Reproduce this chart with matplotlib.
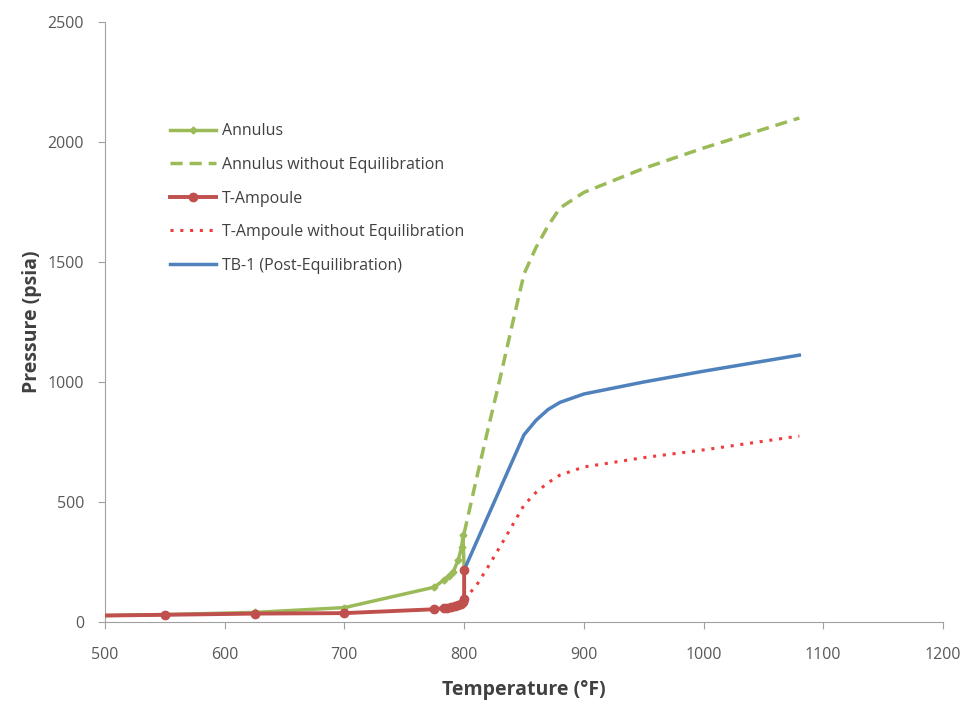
import numpy as np
import matplotlib.pyplot as plt

# Annulus (measured)
ann_t = [500, 550, 625, 700, 775, 783, 787, 791, 795, 798, 799, 800]
ann_p = [27, 31, 40, 60, 145, 175, 190, 210, 258, 314, 362, 217]

# Annulus without equilibration
ann_ne_t = [800, 810, 820, 830, 840, 850, 860, 870, 880, 900, 950, 1000, 1080]
ann_ne_p = [370, 590, 805, 1015, 1235, 1450, 1560, 1650, 1725, 1790, 1890, 1975, 2100]

# T-Ampoule (measured)
amp_t = [500, 550, 625, 700, 775, 783, 786, 789, 792, 795, 797, 799, 800, 800]
amp_p = [27, 30, 35, 37, 53, 58, 60, 63, 66, 70, 76, 85, 95, 217]

# T-Ampoule without equilibration
amp_ne_t = [800, 810, 820, 830, 840, 850, 860, 870, 880, 900, 950, 1000, 1080]
amp_ne_p = [95, 150, 230, 314, 400, 487, 540, 580, 612, 646, 685, 717, 775]

# TB-1 (post-equilibration)
tb_t = [800, 850, 860, 870, 880, 900, 950, 1000, 1080]
tb_p = [217, 780, 840, 885, 915, 950, 1000, 1045, 1112]

plt.rcParams['font.family'] = ['Open Sans', 'DejaVu Sans']

fig = plt.figure(figsize=(9.65, 7.03), dpi=100)
ax = fig.add_axes([105 / 965, 1 - 622 / 703, (943 - 105) / 965, 600 / 703])

green = '#9BBB59'
red = '#C0504D'
blue = '#4F81BD'
tick_col = '#595959'
label_col = '#404040'

ax.plot(ann_t, ann_p, color=green, lw=2.5, marker='D', ms=3.5, markevery=list(range(1, len(ann_t))),
        label='Annulus', zorder=4)
ax.plot(ann_ne_t, ann_ne_p, color=green, lw=2.5, ls=(0, (3.5, 2)), label='Annulus without Equilibration', zorder=3)
ax.plot(amp_t, amp_p, color=red, lw=2.8, marker='o', ms=6, markevery=list(range(1, len(amp_t))),
        label='T-Ampoule', zorder=5)
ax.plot(amp_ne_t, amp_ne_p, color='#EE3B3B', lw=2.2, ls=(0, (1, 2.2)), label='T-Ampoule without Equilibration', zorder=3)
ax.plot(tb_t, tb_p, color=blue, lw=2.5, label='TB-1 (Post-Equilibration)', zorder=4)

ax.set_xlim(500, 1200)
ax.set_ylim(0, 2500)
ax.set_xticks(np.arange(500, 1201, 100))
ax.set_yticks(np.arange(0, 2501, 500))
ax.tick_params(axis='both', colors='#A0A0A0', labelcolor=tick_col, labelsize=11.5, direction='out', length=5)
ax.tick_params(axis='x', pad=13)
ax.tick_params(axis='y', pad=10)

for side in ['top', 'right']:
    ax.spines[side].set_visible(False)
for side in ['left', 'bottom']:
    ax.spines[side].set_color('#A0A0A0')
    ax.spines[side].set_linewidth(0.8)

ax.set_xlabel('Temperature (°F)', fontsize=14, fontweight='bold', color=label_col, labelpad=12)
ax.set_ylabel('Pressure (psia)', fontsize=14, fontweight='bold', color=label_col, labelpad=4)

leg = ax.legend(loc='upper left', bbox_to_anchor=(0.06, 0.855), frameon=False, fontsize=11.5,
                handlelength=2.9, labelspacing=1.1, handletextpad=0.35)
for t in leg.get_texts():
    t.set_color(label_col)

fig.savefig('out.png', dpi=100)
